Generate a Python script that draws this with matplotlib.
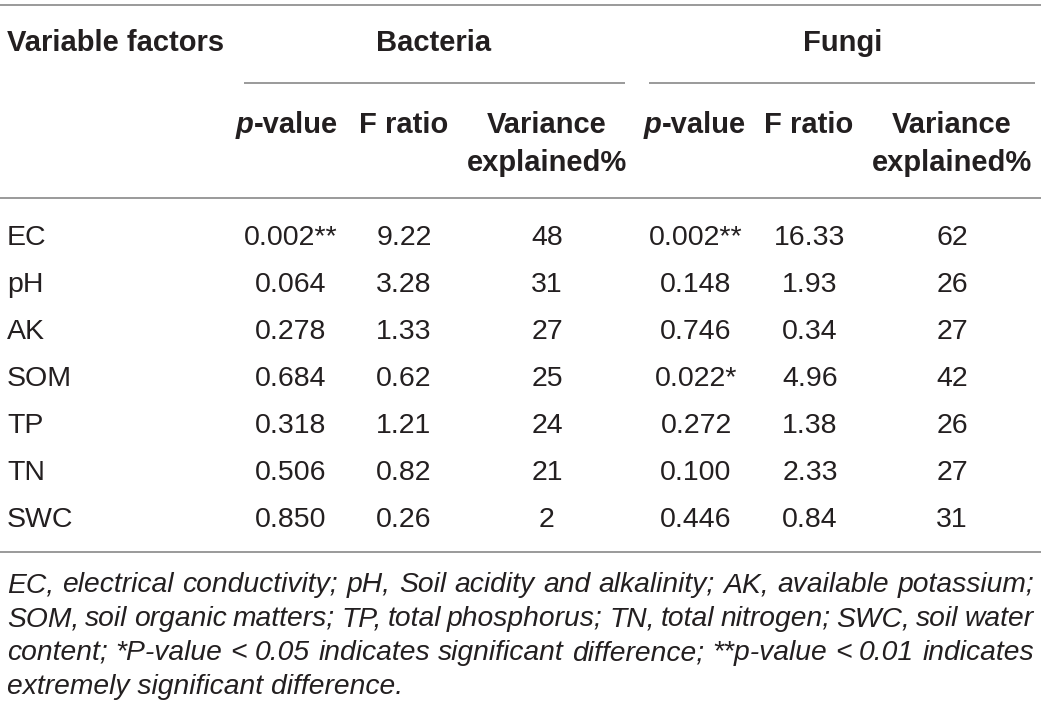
import matplotlib
matplotlib.use("Agg")
import matplotlib.pyplot as plt

# ---------------- data ----------------
factors = ["EC", "pH", "AK", "SOM", "TP", "TN", "SWC"]
bac_p = ["0.002**", "0.064", "0.278", "0.684", "0.318", "0.506", "0.850"]
bac_f = [9.22, 3.28, 1.33, 0.62, 1.21, 0.82, 0.26]
bac_var = [48, 31, 27, 25, 24, 21, 2]
fun_p = ["0.002**", "0.148", "0.746", "0.022*", "0.272", "0.100", "0.446"]
fun_f = [16.33, 1.93, 0.34, 4.96, 1.38, 2.33, 0.84]
fun_var = [62, 26, 27, 42, 26, 27, 31]
footnote_lines = [
    "EC, electrical conductivity; pH, Soil acidity and alkalinity; AK, available potassium;",
    "SOM, soil organic matters; TP, total phosphorus; TN, total nitrogen; SWC, soil water",
    "content; *P-value < 0.05 indicates significant difference; **p-value < 0.01 indicates",
    "extremely significant difference.",
]

# ---------------- layout ----------------
W, H = 1041, 714
FONT = "Liberation Sans"
FS = 20.5
FS_HDR = 21
FS_NOTE = 20.3
TXT = "#231f20"
LINE = "#9a9a9a"

fig = plt.figure(figsize=(W / 100, H / 100), dpi=100)
ax = fig.add_axes([0, 0, 1, 1])
ax.set_xlim(0, W)
ax.set_ylim(H, 0)
ax.axis("off")
renderer = fig.canvas.get_renderer()


def width_of(s, size, weight="normal", style="normal"):
    t = ax.text(0, 0, s, fontsize=size, family=FONT, weight=weight, style=style)
    bb = t.get_window_extent(renderer=renderer)
    t.remove()
    return bb.width


def runs_centered(x, y, runs, size):
    widths = [width_of(s, size, w, st) for s, w, st in runs]
    x0 = x - sum(widths) / 2
    for (s, w, st), wd in zip(runs, widths):
        ax.text(x0, y, s, fontsize=size, family=FONT, weight=w, style=st,
                ha="left", va="baseline", color=TXT)
        x0 += wd


def hline(x0, x1, y):
    ax.plot([x0, x1], [y, y], color=LINE, lw=1.4, solid_capstyle="butt")


def txt(x, y, s, size, ha="center", weight="normal", style="normal"):
    ax.text(x, y, s, fontsize=size, family=FONT, weight=weight, style=style,
            ha=ha, va="baseline", color=TXT)


# rules
hline(0, W, 5)
hline(244, 625, 83)
hline(649, 1035, 83)
hline(0, W, 198)
hline(0, W, 552)

# header
txt(7, 51, "Variable factors", FS_HDR, ha="left", weight="bold")
txt(434, 51, "Bacteria", FS_HDR, weight="bold")
txt(843, 51, "Fungi", FS_HDR, weight="bold")

col_x = [291, 404, 547, 696, 810, 952]
hdr_x = [287, 404, 547, 695, 809, 952]
for i in (0, 3):
    runs_centered(hdr_x[i], 133, [("p", "bold", "italic"), ("-value", "bold", "normal")], FS_HDR)
for i in (1, 4):
    txt(hdr_x[i], 133, "F ratio", FS_HDR, weight="bold")
for i in (2, 5):
    txt(hdr_x[i], 133, "Variance", FS_HDR, weight="bold")
    txt(hdr_x[i], 171, "explained%", FS_HDR, weight="bold")

# body rows
row_y0, row_dy = 245, 47
for r, fac in enumerate(factors):
    y = row_y0 + r * row_dy
    txt(7, y, fac, FS, ha="left")
    vals = [bac_p[r], f"{bac_f[r]:.2f}", str(bac_var[r]),
            fun_p[r], f"{fun_f[r]:.2f}", str(fun_var[r])]
    for cx, v in zip(col_x, vals):
        txt(cx, y, v, FS)

# footnote (justified)
note_y0, note_dy = 592, 34
x_left, x_right = 7, 1034
for li, line in enumerate(footnote_lines):
    y = note_y0 + li * note_dy
    words = line.split(" ")
    if li == len(footnote_lines) - 1:
        txt(x_left, y, line, FS_NOTE, ha="left", style="italic")
        continue
    ws = [width_of(w, FS_NOTE, style="italic") for w in words]
    gap = (x_right - x_left - sum(ws)) / (len(words) - 1)
    x = x_left
    for w, wd in zip(words, ws):
        txt(x, y, w, FS_NOTE, ha="left", style="italic")
        x += wd + gap

fig.savefig("out.png", dpi=100, facecolor="white")
